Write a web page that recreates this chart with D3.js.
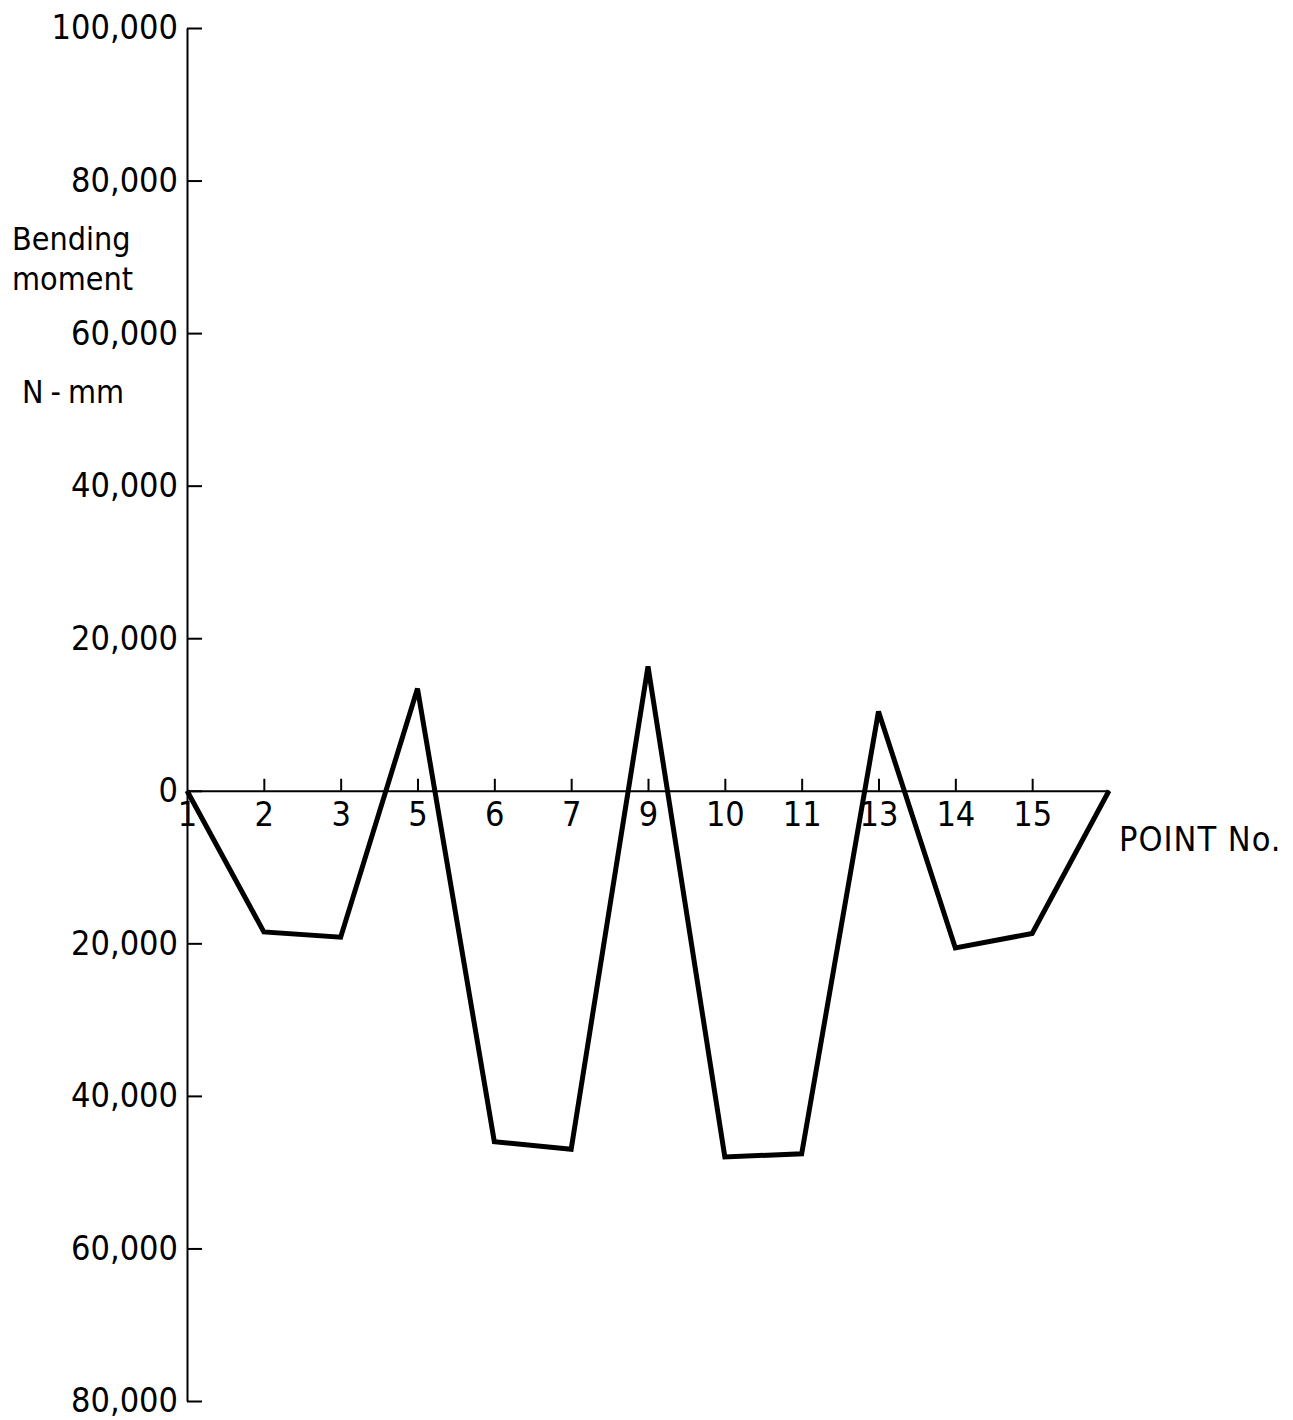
<!DOCTYPE html>
<html>
<head>
<meta charset="utf-8">
<script src="https://cdn.jsdelivr.net/npm/d3@7"></script>
<style>
    body { margin: 0; background: #fff; }
    svg text { font-family: "DejaVu Sans Condensed", "Liberation Sans Narrow", "DejaVu Sans", sans-serif; fill: #000; }
    .axis path, .axis line { stroke: #000; stroke-width: 2px; }
    .axis text { font-size: 34px; }
    .label { font-size: 32px; }
    .moment { fill: none; stroke: #000; stroke-width: 5px; stroke-linejoin: miter; }
</style>
</head>
<body>
<svg width="1293" height="1420"></svg>
<script>
// point numbers along the beam (last one is the unlabelled end support)
var points = ['1', '2', '3', '5', '6', '7', '9', '10', '11', '13', '14', '15', 'end'];
// bending moment at each point, N-mm
var moments = [0, -18500, -19200, 13400, -46000, -47000, 16300, -48000, -47600, 10400, -20600, -18700, 0];
var yTicks = [100000, 80000, 60000, 40000, 20000, 0, -20000, -40000, -60000, -80000];

(function (d3) {
    'use strict';

    var svg = d3.select('svg'),
        left = 187, right = 1109,
        top = 28, bottom = 1401;

    var x = d3.scalePoint().domain(points).range([left, right]).padding(0),
        y = d3.scaleLinear().domain([-80000, 100000]).range([bottom, top]);

    var data = points.map(function (p, i) { return { point: p, value: moments[i] }; });

    var fmt = d3.format(',');

    // y axis: ticks point right, labels on the left, no minus signs
    svg.append('g')
        .attr('class', 'axis axis--y')
        .attr('transform', 'translate(' + left + ',0)')
        .call(d3.axisLeft(y)
            .tickValues(yTicks)
            .tickSizeInner(-15)
            .tickSizeOuter(0)
            .tickPadding(9)
            .tickFormat(function (d) { return fmt(Math.abs(d)); }));

    // x axis along the zero line, ticks pointing up
    var xAxis = svg.append('g')
        .attr('class', 'axis axis--x')
        .attr('transform', 'translate(0,' + y(0) + ')')
        .call(d3.axisBottom(x)
            .tickSizeInner(-12)
            .tickSizeOuter(0)
            .tickPadding(11)
            .tickFormat(function (d) { return d === 'end' ? '' : d; }));

    xAxis.selectAll('.tick line')
        .filter(function (d) { return d === '1' || d === 'end'; })
        .remove();

    var line = d3.line()
        .x(function (d) { return x(d.point); })
        .y(function (d) { return y(d.value); });

    svg.append('path')
        .datum(data)
        .attr('class', 'moment')
        .attr('d', line);

    svg.append('text').attr('class', 'label').attr('x', 12).attr('y', 250).text('Bending');
    svg.append('text').attr('class', 'label').attr('x', 12).attr('y', 290).text('moment');

    var unit = svg.append('text').attr('class', 'label').attr('x', 22).attr('y', 403);
    unit.append('tspan').text('N');
    unit.append('tspan').attr('dx', 7).text('-');
    unit.append('tspan').attr('dx', 7).text('mm');

    svg.append('text').attr('class', 'label').attr('x', 1119).attr('y', 851)
        .style('font-size', '34px').style('letter-spacing', '1px').text('POINT  No.');
})(window.d3);
</script>
</body>
</html>
